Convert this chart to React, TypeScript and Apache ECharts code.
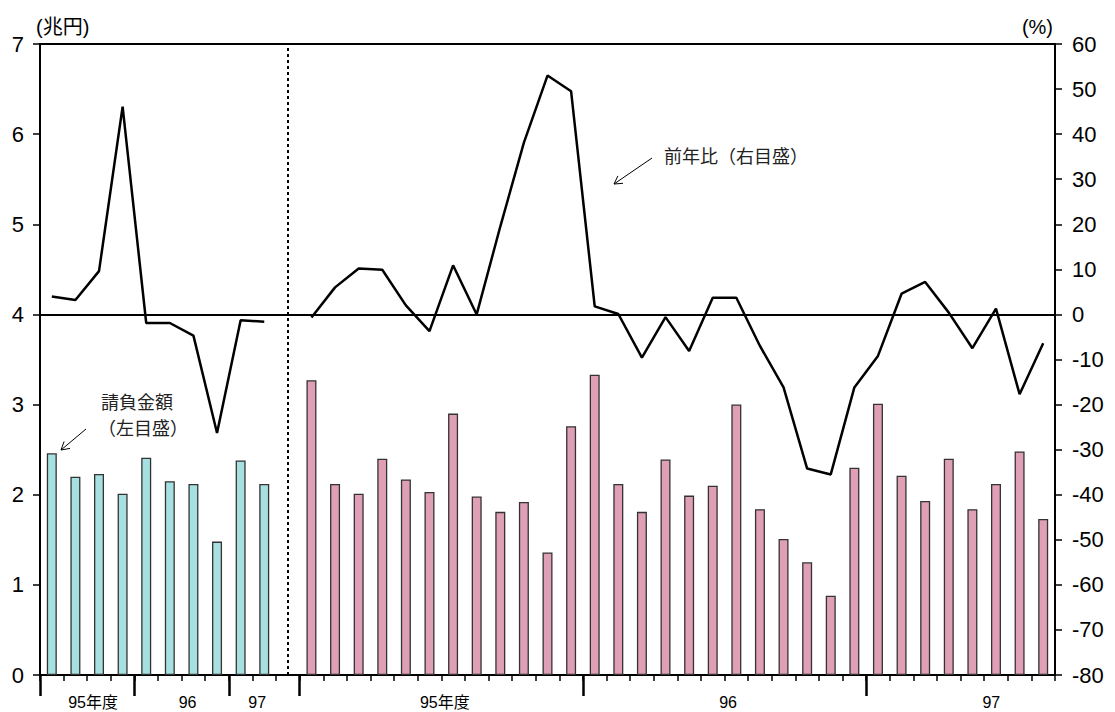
import React, { useEffect, useRef } from "react";
import * as echarts from "echarts";

// ---- data ----
const quarterGroupLabels = ["95年度", "96", "97"];
const quarterGroupCounts = [4, 4, 2];
const monthGroupLabels = ["95年度", "96", "97"];
const monthGroupCounts = [12, 12, 8];

// 請負金額 (兆円) quarterly
const quarterAmount = [2.46, 2.2, 2.23, 2.01, 2.41, 2.15, 2.12, 1.48, 2.38, 2.12];
// 前年比 (%) quarterly
const quarterYoY = [4.0, 3.2, 9.6, 46.1, -1.9, -1.9, -4.7, -26.3, -1.3, -1.6];
// 請負金額 (兆円) monthly
const monthAmount = [
  3.27, 2.12, 2.01, 2.4, 2.17, 2.03, 2.9, 1.98, 1.81, 1.92, 1.36, 2.76,
  3.33, 2.12, 1.81, 2.39, 1.99, 2.1, 3.0, 1.84, 1.51, 1.25, 0.88, 2.3,
  3.01, 2.21, 1.93, 2.4, 1.84, 2.12, 2.48, 1.73,
];
// 前年比 (%) monthly
const monthYoY = [
  -0.7, 6.0, 10.2, 9.9, 2.0, -3.7, 10.9, 0.0, 19.5, 38.1, 53.0, 49.5,
  1.8, 0.1, -9.6, -0.6, -8.1, 3.7, 3.7, -7.0, -16.2, -34.2, -35.5, -16.2,
  -9.2, 4.6, 7.2, 0.4, -7.5, 1.3, -17.7, -6.4,
];
const yearLabelPos = [2.25, 6.25, 9.2, 17.15, 29.15, 40.3];

const LATIN = '"Liberation Sans", Arial, sans-serif';
const CJK = '"Liberation Sans", "Noto Sans CJK JP", sans-serif';

export default function App() {
  const ref = useRef<HTMLDivElement>(null);
  useEffect(() => {
    const chart = echarts.init(ref.current!, null, { renderer: "svg" });
    const nQ = quarterAmount.length;
    const mStart = nQ + 1;
    const total = mStart + monthAmount.length;

    const qX = quarterAmount.map((_, i) => i + 0.5);
    const mX = monthAmount.map((_, i) => mStart + i + 0.5);

    const majors: number[] = [];
    let acc = 0;
    quarterGroupCounts.forEach((c) => { majors.push(acc); acc += c; });
    acc = mStart;
    monthGroupCounts.forEach((c) => { majors.push(acc); acc += c; });
    const minors: number[] = [];
    for (let i = 0; i <= total; i++) minors.push(i);
    const yearLabels = [...quarterGroupLabels, ...monthGroupLabels];

    const axisLine = { show: true, onZero: false, lineStyle: { color: "#000", width: 2 } };

    chart.setOption({
      animation: false,
      backgroundColor: "#fff",
      grid: {
        left: 40, right: 60, top: 44, bottom: 37,
        show: true, borderColor: "#000", borderWidth: 2,
        containLabel: false, outerBoundsMode: "none",
      },
      xAxis: [
        {
          type: "value", min: 0, max: total, position: "bottom",
          axisLine,
          splitLine: { show: false },
          axisTick: { show: true, customValues: minors, length: 6, lineStyle: { color: "#000", width: 1.5 } },
          axisLabel: { show: false },
        },
        {
          type: "value", min: 0, max: total, position: "bottom",
          axisLine: { show: false, onZero: false },
          splitLine: { show: false },
          axisTick: { show: true, customValues: majors, length: 21, lineStyle: { color: "#000", width: 2.5 } },
          axisLabel: {
            show: true,
            customValues: yearLabelPos,
            margin: 19,
            fontSize: 16,
            color: "#000",
            fontFamily: CJK,
            formatter: (v: number) => {
              const idx = yearLabelPos.findIndex((p) => Math.abs(p - v) < 0.01);
              return idx >= 0 ? yearLabels[idx] : "";
            },
          },
        },
      ],
      yAxis: [
        {
          type: "value", min: 0, max: 7, interval: 1, position: "left",
          name: "(兆円)", nameLocation: "end", nameGap: 17,
          nameTextStyle: { fontSize: 20, color: "#000", fontFamily: CJK, align: "left", verticalAlign: "middle", padding: [0, 0, 0, -4] },
          axisLine,
          splitLine: { show: false },
          axisTick: { show: true, length: 7, lineStyle: { color: "#000", width: 1.5 } },
          axisLabel: { fontSize: 22, color: "#000", fontFamily: LATIN, margin: 16 },
        },
        {
          type: "value", min: -80, max: 60, interval: 10, position: "right",
          name: "(%)", nameLocation: "end", nameGap: 17,
          nameTextStyle: { fontSize: 20, color: "#000", fontFamily: CJK, align: "right", verticalAlign: "middle", padding: [0, 2, 0, 0] },
          axisLine,
          splitLine: { show: false },
          axisTick: { show: true, length: 7, lineStyle: { color: "#000", width: 1.5 } },
          axisLabel: { fontSize: 22, color: "#000", fontFamily: LATIN, margin: 17 },
        },
      ],
      series: [
        {
          name: "請負金額(四半期)",
          type: "bar",
          xAxisIndex: 0, yAxisIndex: 0,
          barWidth: 10, barGap: "-100%",
          data: quarterAmount.map((v, i) => [qX[i], v]),
          itemStyle: { color: "#a6e0e0", borderColor: "#333", borderWidth: 1.3 },
          markLine: {
            silent: true, symbol: "none", label: { show: false },
            lineStyle: { color: "#000", width: 2, type: [3, 3] },
            data: [{ xAxis: nQ + 0.5 }],
          },
        },
        {
          name: "請負金額(月次)",
          type: "bar",
          xAxisIndex: 0, yAxisIndex: 0,
          barWidth: 10, barGap: "-100%",
          data: monthAmount.map((v, i) => [mX[i], v]),
          itemStyle: { color: "#df9fb6", borderColor: "#333", borderWidth: 1.3 },
        },
        {
          name: "前年比(四半期)",
          type: "line",
          xAxisIndex: 0, yAxisIndex: 1,
          symbol: "none",
          data: quarterYoY.map((v, i) => [qX[i], v]),
          lineStyle: { color: "#000", width: 2.5 },
          markLine: {
            silent: true, symbol: "none", label: { show: false },
            lineStyle: { color: "#000", width: 2, type: "solid" },
            data: [{ yAxis: 0 }],
          },
        },
        {
          name: "前年比(月次)",
          type: "line",
          xAxisIndex: 0, yAxisIndex: 1,
          symbol: "none",
          data: monthYoY.map((v, i) => [mX[i], v]),
          lineStyle: { color: "#000", width: 2.5 },
        },
      ],
      graphic: [
        { type: "text", x: 137, y: 403, style: { text: "請負金額", fontSize: 18, fontFamily: CJK, fill: "#222", align: "center", verticalAlign: "middle" } },
        { type: "text", x: 143, y: 429, style: { text: "（左目盛）", fontSize: 18, fontFamily: CJK, fill: "#222", align: "center", verticalAlign: "middle" } },
        { type: "line", shape: { x1: 86, y1: 429, x2: 61, y2: 450 }, style: { stroke: "#000", lineWidth: 1 } },
        { type: "polyline", shape: { points: [[70, 448.4], [61, 450], [64.1, 441.5]] }, style: { stroke: "#000", lineWidth: 1, fill: null } },
        { type: "text", x: 736, y: 157, style: { text: "前年比（右目盛）", fontSize: 18, fontFamily: CJK, fill: "#222", align: "center", verticalAlign: "middle" } },
        { type: "line", shape: { x1: 652, y1: 158, x2: 614, y2: 184 }, style: { stroke: "#000", lineWidth: 1 } },
        { type: "polyline", shape: { points: [[623, 183.3], [614, 184], [617.9, 175.9]] }, style: { stroke: "#000", lineWidth: 1, fill: null } },
      ],
    });
    return () => chart.dispose();
  }, []);
  return (
    <div
      ref={ref}
      style={{ position: "fixed", left: 0, top: 0, width: 1115, height: 712, background: "#fff" }}
    />
  );
}
